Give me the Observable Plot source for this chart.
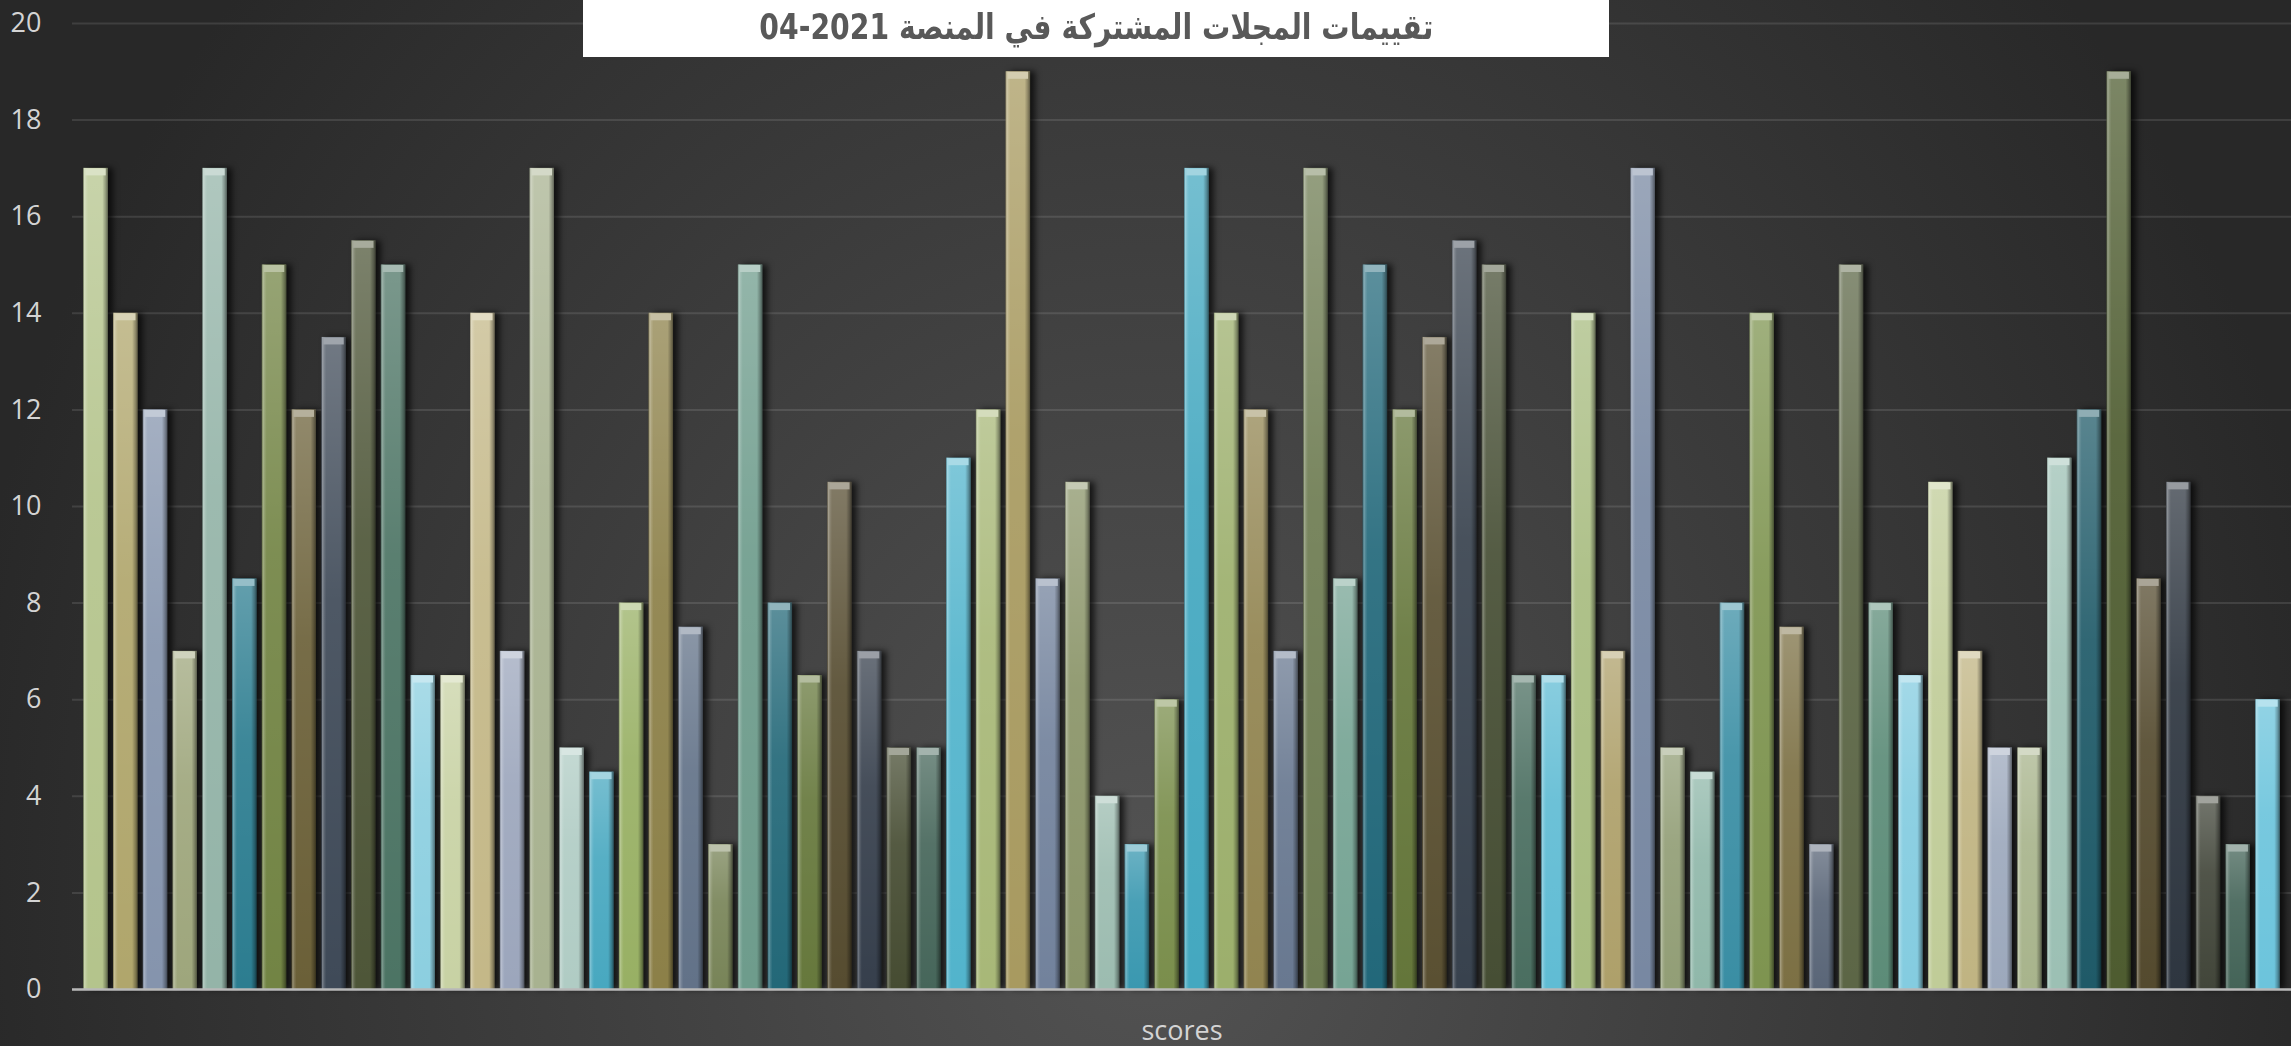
<!DOCTYPE html>
<html>
<head>
<meta charset="utf-8">
<script src="https://cdn.jsdelivr.net/npm/d3@7"></script>
<script src="https://cdn.jsdelivr.net/npm/@observablehq/plot@0.6"></script>
<style>
  html, body { margin: 0; padding: 0; background: #2a2a2a; }
  #chart {
    position: relative; width: 2291px; height: 1046px; overflow: hidden;
    background: radial-gradient(ellipse 1200px 1400px at 1150px 900px, #535353 0%, #282828 100%);
  }
  #chart svg.plot { position: absolute; left: 0; top: 0; }
  #title {
    position: absolute; left: 583px; top: 0; width: 1026px; height: 57px;
    background: #ffffff; display: flex; align-items: center; justify-content: center;
  }
  #title span {
    font-family: "DejaVu Sans", "Noto Sans", sans-serif; font-weight: bold;
    font-size: 35px; color: #595959; white-space: nowrap; display: inline-block;
    transform-origin: center center; margin-top: -4px;
  }
</style>
</head>
<body>
<div id="chart">
  <svg width="0" height="0" style="position:absolute">
    <defs>
      <linearGradient id="shadeV" x1="0" y1="0" x2="0" y2="1">
        <stop offset="0" stop-color="#fff" stop-opacity="0.26"/>
        <stop offset="0.4" stop-color="#fff" stop-opacity="0.08"/>
        <stop offset="1" stop-color="#fff" stop-opacity="0"/>
      </linearGradient>
      <linearGradient id="shadeH" x1="0" y1="0" x2="1" y2="0">
        <stop offset="0" stop-color="#000" stop-opacity="0.25"/>
        <stop offset="0.05" stop-color="#fff" stop-opacity="0.3"/>
        <stop offset="0.12" stop-color="#fff" stop-opacity="0.12"/>
        <stop offset="0.2" stop-color="#fff" stop-opacity="0"/>
        <stop offset="0.78" stop-color="#000" stop-opacity="0"/>
        <stop offset="0.92" stop-color="#000" stop-opacity="0.28"/>
        <stop offset="1" stop-color="#000" stop-opacity="0.5"/>
      </linearGradient>
    </defs>
  </svg>
  <div id="title"><span dir="rtl">تقييمات المجلات المشتركة في المنصة 2021-04</span></div>
</div>
<script>
// Categories (journals, unlabeled in the chart)
const journals = [1,2,3,4,5,6,7,8,9,10,11,12,13,14,15,16,17,18,19,20,21,22,23,24,25,26,27,28,29,30,31,32,33,34,35,36,37,38,39,40,41,42,43,44,45,46,47,48,49,50,51,52,53,54,55,56,57,58,59,60,61,62,63,64,65,66,67,68,69,70,71,72,73,74];

// Scores per journal
const scores = [17,14,12,7,17,8.5,15,12,13.5,15.5,15,6.5,6.5,14,7,17,5,4.5,8,14,7.5,3,15,8,6.5,10.5,7,5,5,11,12,19,8.5,10.5,4,3,6,17,14,12,7,17,8.5,15,12,13.5,15.5,15,6.5,6.5,14,7,17,5,4.5,8,14,7.5,3,15,8,6.5,10.5,7,5,5,11,12,19,8.5,10.5,4,3,6];

// Per-point colours (vary colours by point)
const barColors = ["#b4c48c","#b0a66c","#8594ad","#9ea67c","#94b4a8","#2c7d90","#728444","#6b6038","#3f4a58","#4e5638","#4c7464","#8ccfe0","#c8d2a4","#c4b888","#9ca6bc","#a8b290","#b0ccc4","#48a8c0","#98b064","#8c8048","#627288","#788458","#6e9c8c","#236878","#66783c","#564c30","#363f4c","#464c32","#46665a","#52b4cc","#a8b878","#a89a60","#72829c","#8a9468","#9cbcb0","#3a98b0","#7a8e4c","#44a8c0","#9caf6c","#918450","#687890","#6e7c52","#76a494","#22687a","#64763a","#5a5032","#38424e","#464e34","#4a6e60","#60bcd4","#a8bc80","#aea06a","#7888a2","#929e76","#90b8aa","#3a8ea4","#7e9450","#7c7044","#5a6678","#5c6646","#5c8c78","#84cce0","#c0cc98","#c0b482","#9ca8bc","#a8b48c","#9cc0b4","#1f5a68","#4e5c30","#544a2e","#2e3640","#42463a","#446458","#6cc4dc"];

const yTicks = [0,2,4,6,8,10,12,14,16,18,20];
const xLabel = "scores";

const data = journals.map((j, i) => ({journal: j, score: scores[i], color: barColors[i]}));
const lighter = c => d3.interpolateRgb(c, "#ffffff")(0.5);

const plot = Plot.plot({
  width: 2291,
  height: 1046,
  marginLeft: 72,
  marginRight: 0,
  marginTop: 23,
  marginBottom: 57,
  style: {background: "transparent", color: "#d4d4d4", fontFamily: "'Open Sans', 'Segoe UI', sans-serif", fontSize: "27px"},
  x: {type: "band", domain: journals, paddingInner: 0.18, paddingOuter: 0.38, axis: null},
  y: {domain: [0, 20], axis: null},
  color: {type: "identity"},
  marks: [
    Plot.gridY(yTicks, {stroke: "#ffffff", strokeOpacity: 0.11, strokeWidth: 2}),
    Plot.axisY(yTicks, {tickSize: 0, tickPadding: 31, fill: "#d4d4d4", fontSize: 27, label: null}),
    Plot.barY(data, {x: "journal", y: "score", fill: "color"}),
    Plot.barY(data, {x: "journal", y: "score", fill: "url(#shadeV)"}),
    Plot.barY(data, {x: "journal", y: "score", fill: "url(#shadeH)"}),
    Plot.tickY(data, {x: "journal", y: "score", stroke: d => lighter(d.color), strokeWidth: 7, dy: 3.5, insetLeft: 2, insetRight: 2}),
    Plot.ruleY([0], {stroke: "#b8b8b8", strokeWidth: 2.5}),
    Plot.text([xLabel], {frameAnchor: "bottom", dy: 50, fill: "#d4d4d4", fontSize: 27})
  ]
});
plot.classList.add("plot");
const chart = document.getElementById("chart");
chart.insertBefore(plot, document.getElementById("title"));

// drop shadow on the base bars
const barGroups = plot.querySelectorAll('g[aria-label="bar"]');
if (barGroups.length) barGroups[0].style.filter = "drop-shadow(5px 0px 3px rgba(0,0,0,0.7))";

// fit the title text to the reference width
const span = document.querySelector("#title span");
const w = span.getBoundingClientRect().width;
if (w > 0) span.style.transform = `scaleX(${674 / w})`;
</script>
</body>
</html>
